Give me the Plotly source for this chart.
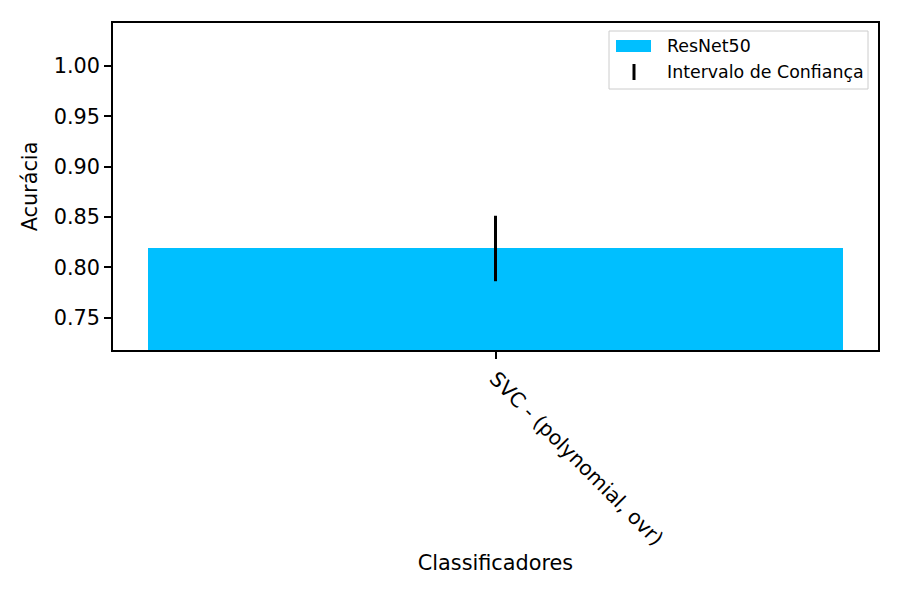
import plotly.graph_objects as go

categories = ["SVC - (polynomial, ovr)"]
accuracy = [0.8188]
ci_half = [0.0325]
series_name = "ResNet50"
ci_name = "Intervalo de Confiança"
ytick_vals = [0.75, 0.80, 0.85, 0.90, 0.95, 1.00]

W, H = 900, 600
L, R, T, B = 113, 878, 23, 350
FONT = "DejaVu Sans"

def px(x):
    return (x - L) / (R - L)

def py(y):
    return (B - y) / (B - T)

fig = go.Figure()
fig.add_trace(go.Bar(
    x=list(range(len(categories))), y=accuracy, width=0.8,
    marker=dict(color="#00BFFF", line=dict(width=0)),
    name=series_name, showlegend=False,
))
fig.add_trace(go.Scatter(
    x=list(range(len(categories))), y=accuracy, mode="markers",
    marker=dict(size=0.1, color="black", opacity=0),
    error_y=dict(type="data", array=ci_half, color="black", thickness=3, width=0),
    name=ci_name, showlegend=False,
))

shapes = [
    dict(type="rect", xref="paper", yref="paper", x0=px(609), x1=px(868), y0=py(89), y1=py(31),
         line=dict(color="#cccccc", width=1), fillcolor="rgba(255,255,255,0.8)", layer="above"),
    dict(type="rect", xref="paper", yref="paper", x0=px(616), x1=px(651), y0=py(52), y1=py(40),
         line=dict(width=0), fillcolor="#00BFFF", layer="above"),
    dict(type="line", xref="paper", yref="paper", x0=px(634), x1=px(634), y0=py(80), y1=py(64),
         line=dict(color="black", width=3), layer="above"),
]
annotations = [
    dict(xref="paper", yref="paper", x=px(665), y=py(46), text=series_name, showarrow=False,
         xanchor="left", yanchor="middle", font=dict(family=FONT, size=17.4, color="black")),
    dict(xref="paper", yref="paper", x=px(665), y=py(72), text=ci_name, showarrow=False,
         xanchor="left", yanchor="middle", font=dict(family=FONT, size=17.4, color="black")),
]

fig.update_layout(
    width=W, height=H,
    margin=dict(l=L, r=W - R, t=T, b=H - B, autoexpand=False),
    plot_bgcolor="white", paper_bgcolor="white",
    font=dict(family=FONT, size=20.8, color="black"),
    bargap=0, showlegend=False,
    shapes=shapes, annotations=annotations,
    xaxis=dict(
        range=[-0.44, 0.44], tickmode="array", tickvals=list(range(len(categories))),
        ticktext=categories, tickangle=45, ticks="outside", ticklen=7, tickwidth=1.6,
        tickcolor="black", showline=True, linecolor="black", linewidth=1.6, mirror=True,
        showgrid=False, zeroline=False, automargin=False,
        title=dict(text="Classificadores", standoff=6, font=dict(size=20.8)),
        tickfont=dict(size=20.4),
    ),
    yaxis=dict(
        range=[0.718, 1.0427], tickmode="array", tickvals=ytick_vals, tickformat=".2f",
        ticks="outside", ticklen=7, tickwidth=1.6, tickcolor="black",
        showline=True, linecolor="black", linewidth=1.6, mirror=True,
        showgrid=False, zeroline=False, automargin=False,
        title=dict(text="Acurácia", standoff=10, font=dict(size=20.8)),
        tickfont=dict(size=20.8),
    ),
)

fig.write_html("out.html", config={"displayModeBar": False},
               post_script="document.body.style.margin='0';")
